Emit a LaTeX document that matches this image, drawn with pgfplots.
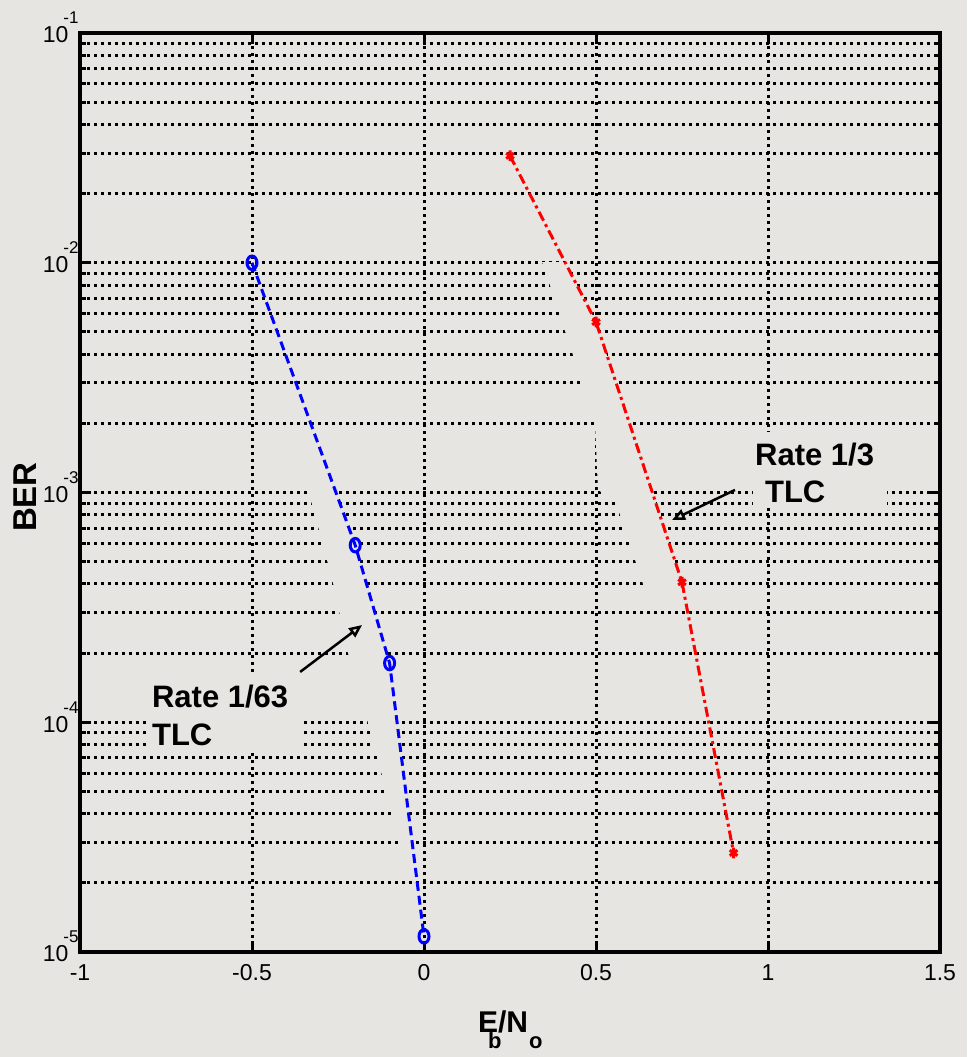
\documentclass[border=0pt]{standalone}
\usepackage{pgfplots}
\pgfplotsset{compat=1.18}
\usepackage{fontspec}
\setmainfont{Liberation Sans}
\usetikzlibrary{arrows.meta}
\definecolor{bgcol}{RGB}{231,229,226}
\newcommand{\tl}[1]{10\hspace{-5pt}\raisebox{19pt}[0pt][0pt]{\fontsize{17}{18}\selectfont #1}}
\begin{document}
\begin{tikzpicture}
\fill[bgcol] (-80pt,-105pt) rectangle (887pt,952pt);
\path[use as bounding box] (-80pt,-105pt) rectangle (887pt,952pt);
\begin{axis}[
  scale only axis, width=860pt, height=919pt,
  at={(0,0)}, anchor=south west,
  xmin=-1, xmax=1.5, ymode=log, ymin=1e-5, ymax=1e-1,
  xtick={-1,-0.5,0,0.5,1,1.5},
  xticklabels={-1,-0.5,0,0.5,1,1.5},
  ytick={1e-5,1e-4,1e-3,1e-2,1e-1},
  yticklabels={\tl{-5},\tl{-4},\tl{-3},\tl{-2},\tl{-1}},
  minor ytick={2e-5,3e-5,4e-5,5e-5,6e-5,7e-5,8e-5,9e-5,
               2e-4,3e-4,4e-4,5e-4,6e-4,7e-4,8e-4,9e-4,
               2e-3,3e-3,4e-3,5e-3,6e-3,7e-3,8e-3,9e-3,
               2e-2,3e-2,4e-2,5e-2,6e-2,7e-2,8e-2,9e-2},
  xmajorgrids, ymajorgrids, yminorgrids,
  major grid style={black, line width=3pt, dash pattern=on 3pt off 4pt},
  minor grid style={black, line width=3pt, dash pattern=on 3pt off 4pt},
  tick align=inside, major tick length=11pt, minor tick length=6pt,
  tick style={black, line width=3pt},
  axis line style={black, line width=3.5pt},
  axis background/.style={fill=bgcol},
  tick label style={font=\fontsize{23}{26}\selectfont},
  xticklabel style={anchor=north, yshift=-9pt},
  yticklabel style={anchor=east, xshift=2pt, yshift=-2pt},
  xlabel={\textbf{E\rlap{\hspace{-10pt}\raisebox{-16pt}[0pt][0pt]{\fontsize{22}{24}\selectfont b}}/N\rlap{\hspace{1pt}\raisebox{-16pt}[0pt][0pt]{\fontsize{22}{24}\selectfont o}}}},
  ylabel={\textbf{BER}},
  xlabel style={font=\fontsize{30}{32}\selectfont, at={(axis description cs:0.4919,-0.0762)}, anchor=center},
  ylabel style={font=\fontsize{33}{36}\selectfont, at={(axis description cs:-0.064,0.495)}, anchor=center},
  clip=false,
]
% erased patches (grid gaps of the original)
\fill[bgcol] (rel axis cs:0.7826,0.5658) rectangle (rel axis cs:0.9384,0.4831);
\fill[bgcol] (rel axis cs:0.0779,0.3036) rectangle (rel axis cs:0.2558,0.2176);
\fill[bgcol] (rel axis cs:0.2651,0.5027) -- (rel axis cs:0.2814,0.4472) -- (rel axis cs:0.2942,0.4015)
  -- (rel axis cs:0.3116,0.3254) -- (rel axis cs:0.3349,0.2492) -- (rel axis cs:0.3721,0.1186)
  -- (rel axis cs:0.3860,0.0783) -- (rel axis cs:0.3919,0.0783) -- (rel axis cs:0.3860,0.1186)
  -- (rel axis cs:0.3686,0.2492) -- (rel axis cs:0.3593,0.3145) -- (rel axis cs:0.3198,0.4429)
  -- (rel axis cs:0.2965,0.5027) -- cycle;
\fill[bgcol] (rel axis cs:0.5372,0.7508) -- (rel axis cs:0.5512,0.7127) -- (rel axis cs:0.5640,0.6757)
  -- (rel axis cs:0.5837,0.6202) -- (rel axis cs:0.5988,0.5756) -- (rel axis cs:0.6023,0.5027)
  -- (rel axis cs:0.6221,0.4918) -- (rel axis cs:0.6570,0.3939) -- (rel axis cs:0.7023,0.3939)
  -- (rel axis cs:0.6686,0.4918) -- (rel axis cs:0.6384,0.5756) -- (rel axis cs:0.6000,0.6855)
  -- (rel axis cs:0.5640,0.7508) -- cycle;

\addplot[blue, line width=3pt, dash pattern=on 9pt off 5pt,
  mark=o, mark size=5pt, mark options={solid, line width=3pt, yscale=1.35}]
  coordinates {(-0.5,1.0e-2) (-0.2,5.9e-4) (-0.1,1.81e-4) (0,1.17e-5)};
\addplot[red, line width=3pt, dash pattern=on 10pt off 4pt on 3pt off 4pt,
  mark=asterisk, mark size=4.5pt, mark options={solid, line width=3pt, yscale=1.2}]
  coordinates {(0.25,2.92e-2) (0.5,5.52e-3) (0.75,4.07e-4) (0.9,2.70e-5)};

\node[anchor=west, font=\fontsize{31}{34}\selectfont\bfseries, inner sep=0pt] at (axis cs:0.962,1.456e-3) {Rate 1/3};
\node[anchor=west, font=\fontsize{31}{34}\selectfont\bfseries, inner sep=0pt] at (axis cs:0.991,1.005e-3) {TLC};
\draw[black, line width=2.5pt, -{Triangle[open, length=13pt, width=11pt]}] (axis cs:0.904,1.026e-3) -- (axis cs:0.721,7.59e-4);

\node[anchor=west, font=\fontsize{31}{34}\selectfont\bfseries, inner sep=0pt] at (axis cs:-0.791,1.288e-4) {Rate 1/63};
\node[anchor=west, font=\fontsize{31}{34}\selectfont\bfseries, inner sep=0pt] at (axis cs:-0.791,8.8e-5) {TLC};
\draw[black, line width=2.5pt, -{Triangle[open, length=13pt, width=11pt]}] (axis cs:-0.360,1.656e-4) -- (axis cs:-0.180,2.65e-4);
\end{axis}
\end{tikzpicture}
\end{document}
